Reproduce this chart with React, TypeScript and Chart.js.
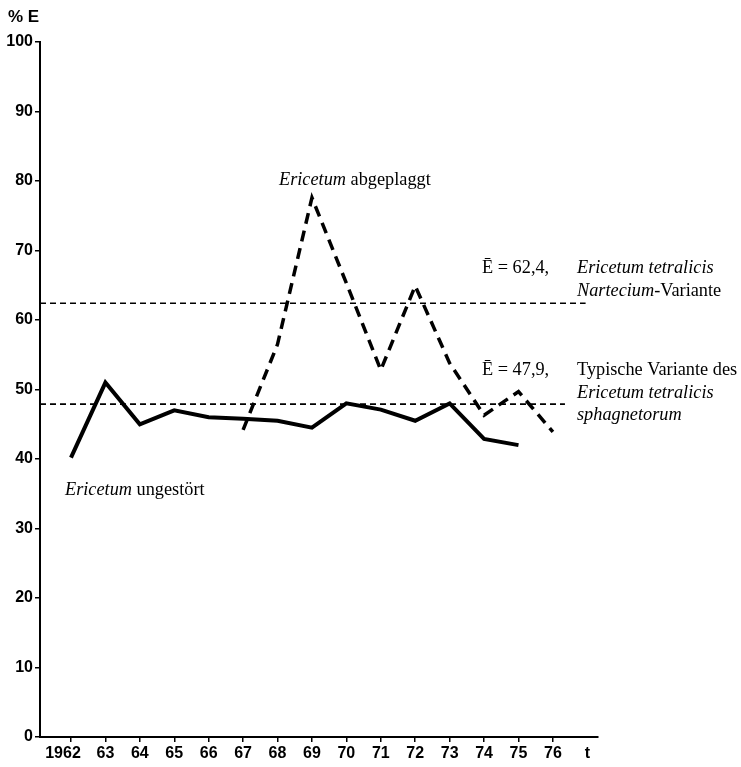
import React, { useEffect, useRef } from "react";
import { Chart, registerables } from "chart.js";

Chart.register(...registerables);

const yearsUngestoert = [1962, 1963, 1964, 1965, 1966, 1967, 1968, 1969, 1970, 1971, 1972, 1973, 1974, 1975];
const valuesUngestoert = [40.2, 51, 45, 47, 46, 45.8, 45.5, 44.5, 48, 47.1, 45.5, 48, 42.9, 42];
const yearsAbgeplaggt = [1967, 1968, 1969, 1970, 1971, 1972, 1973, 1974, 1975, 1976];
const valuesAbgeplaggt = [44.2, 56.5, 77.6, 65.3, 52.8, 64.9, 53.8, 46.3, 49.7, 43.9];
const meanNartecium = 62.4;
const meanTypisch = 47.9;
const meanNarteciumRange = [1961.1, 1976.95];
const meanTypischRange = [1961.1, 1976.35];
const tickYears = [1962, 1963, 1964, 1965, 1966, 1967, 1968, 1969, 1970, 1971, 1972, 1973, 1974, 1975, 1976, 1977];
const yTicks = [0, 10, 20, 30, 40, 50, 60, 70, 80, 90, 100];

const SERIF = '"Liberation Serif", "Times New Roman", serif';
const SANS = '"Liberation Sans", Arial, sans-serif';

type Seg = { t: string; i?: boolean };
const annotations: { x: number; y: number; segs: Seg[] }[] = [
  { x: 279, y: 180, segs: [{ t: "Ericetum", i: true }, { t: " abgeplaggt" }] },
  { x: 65, y: 490, segs: [{ t: "Ericetum", i: true }, { t: " ungestört" }] },
  { x: 482, y: 268, segs: [{ t: "Ē = 62,4," }] },
  { x: 577, y: 268, segs: [{ t: "Ericetum tetralicis", i: true }] },
  { x: 577, y: 291, segs: [{ t: "Nartecium", i: true }, { t: "-Variante" }] },
  { x: 482, y: 370, segs: [{ t: "Ē = 47,9," }] },
  { x: 577, y: 370, segs: [{ t: "Typische Variante des" }] },
  { x: 577, y: 393, segs: [{ t: "Ericetum tetralicis", i: true }] },
  { x: 577, y: 415, segs: [{ t: "sphagnetorum", i: true }] },
];

const textPlugin = {
  id: "texts",
  afterDraw(chart: any) {
    const ctx = chart.ctx as CanvasRenderingContext2D;
    ctx.save();
    ctx.fillStyle = "#000";
    ctx.textBaseline = "middle";
    ctx.textAlign = "left";
    for (const a of annotations) {
      let x = a.x;
      for (const s of a.segs) {
        ctx.font = `${s.i ? "italic " : ""}18.3px ${SERIF}`;
        ctx.fillText(s.t, x, a.y);
        x += ctx.measureText(s.t).width;
      }
    }
    ctx.font = `bold 17px ${SANS}`;
    ctx.fillText("% E", 8, 17);
    ctx.restore();
  },
};

export default function App() {
  const ref = useRef<HTMLCanvasElement | null>(null);
  useEffect(() => {
    document.body.style.margin = "0";
    const canvas = ref.current!;
    const chart = new Chart(canvas, {
      type: "line",
      data: {
        datasets: [
          {
            label: "Ericetum ungestört",
            data: yearsUngestoert.map((x, i) => ({ x, y: valuesUngestoert[i] })),
            borderColor: "#000",
            borderWidth: 4,
            pointRadius: 0,
            tension: 0,
            borderJoinStyle: "miter",
          },
          {
            label: "Ericetum abgeplaggt",
            data: yearsAbgeplaggt.map((x, i) => ({ x, y: valuesAbgeplaggt[i] })),
            borderColor: "#000",
            borderWidth: 3.5,
            borderDash: [11, 7],
            pointRadius: 0,
            tension: 0,
          },
          {
            label: "Nartecium mean",
            data: meanNarteciumRange.map((x) => ({ x, y: meanNartecium })),
            borderColor: "#000",
            borderWidth: 1.6,
            borderDash: [6, 4],
            pointRadius: 0,
          },
          {
            label: "Typisch mean",
            data: meanTypischRange.map((x) => ({ x, y: meanTypisch })),
            borderColor: "#000",
            borderWidth: 1.6,
            borderDash: [6, 4],
            pointRadius: 0,
          },
        ],
      },
      options: {
        animation: false,
        responsive: false,
        layout: { padding: { top: 42, right: 143, left: 0, bottom: 0 } },
        plugins: { legend: { display: false }, tooltip: { enabled: false }, title: { display: false } },
        scales: {
          x: {
            type: "linear",
            min: 1961.1,
            max: 1977.31,
            afterFit: (s: any) => {
              s.height = 30;
            },
            afterBuildTicks: (axis: any) => {
              axis.ticks = tickYears.map((v) => ({ value: v }));
            },
            grid: {
              drawOnChartArea: false,
              drawTicks: true,
              tickLength: 5,
              lineWidth: 1.5,
              color: (c: any) => (c.tick && c.tick.value === 1977 ? "rgba(0,0,0,0)" : "#000"),
            },
            border: { display: true, color: "#000", width: 2 },
            ticks: {
              autoSkip: false,
              maxRotation: 0,
              padding: 2,
              color: "#000",
              font: { family: SANS, size: 16, weight: "bold" },
              callback: (v: any) => {
                const n = Number(v);
                if (n === 1962) return "1962\u2002\u2002";
                if (n === 1977) return "t";
                return String(n % 100);
              },
            },
          },
          y: {
            min: 0,
            max: 100,
            afterFit: (s: any) => {
              s.width = 40;
            },
            afterBuildTicks: (axis: any) => {
              axis.ticks = yTicks.map((v) => ({ value: v }));
            },
            grid: {
              drawOnChartArea: false,
              drawTicks: true,
              tickLength: 5,
              lineWidth: 1.5,
              color: "#000",
            },
            border: { display: true, color: "#000", width: 2 },
            ticks: {
              padding: 2,
              color: "#000",
              font: { family: SANS, size: 16, weight: "bold" },
            },
          },
        },
      },
      plugins: [textPlugin],
    });
    return () => chart.destroy();
  }, []);
  return (
    <div style={{ width: 741, height: 767 }}>
      <canvas ref={ref} width={741} height={767} style={{ display: "block" }} />
    </div>
  );
}
